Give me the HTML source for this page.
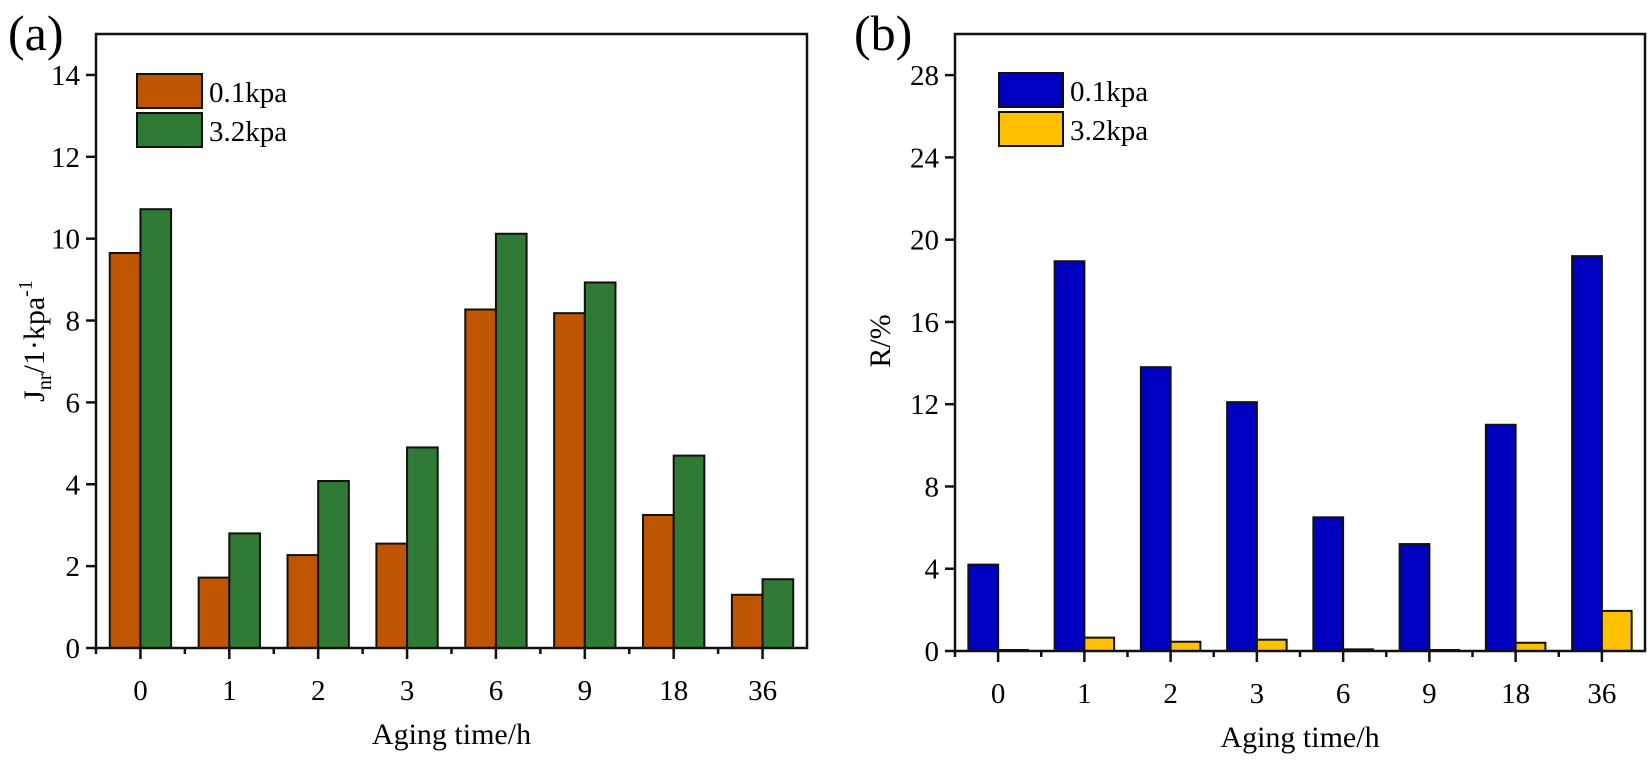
<!DOCTYPE html>
<html><head><meta charset="utf-8"><style>
body{margin:0;background:#fff}
svg{display:block;font-family:"Liberation Serif",serif}
</style></head><body>
<svg id="fig" width="1650" height="764" viewBox="0 0 1650 764"></svg>
<script>
const categories=["0","1","2","3","6","9","18","36"];
const jnr01=[9.65,1.72,2.27,2.55,8.27,8.18,3.25,1.3];
const jnr32=[10.72,2.8,4.08,4.9,10.12,8.93,4.7,1.68];
const r01=[4.2,18.95,13.8,12.1,6.5,5.2,11.0,19.2];
const r32=[0.05,0.65,0.45,0.55,0.08,0.05,0.4,1.95];
const ticksA=[0,2,4,6,8,10,12,14];
const ticksB=[0,4,8,12,16,20,24,28];
const seriesNames=["0.1kpa","3.2kpa"];

const NS="http://www.w3.org/2000/svg";
const svg=document.getElementById('fig');
function mk(tag,attrs,parent,text){const e=document.createElementNS(NS,tag);for(const k in attrs)e.setAttribute(k,attrs[k]);if(text!==undefined)e.textContent=text;(parent||svg).appendChild(e);return e;}

function panel(cfg){
  const g=mk('g',{});
  
  
  const {x0,x1,y0,yTop,max}=cfg;
  const ys=v=>y0-(v/max)*(y0-yTop);
  const band=(x1-x0)/categories.length;
  const xc=i=>x0+band*(i+0.5);
  const bw=band*0.345;
  // bars
  categories.forEach((c,i)=>{
    const v1=cfg.s1[i],v2=cfg.s2[i];
    const b1=mk('rect',{x:xc(i)-bw,y:ys(v1),width:bw,height:y0-ys(v1),fill:cfg.c1,stroke:'#111','stroke-width':2},g);
    
    
    const b2=mk('rect',{x:xc(i),y:ys(v2),width:bw,height:y0-ys(v2),fill:cfg.c2,stroke:'#111','stroke-width':2},g);
    
    
  });
  // frame
  const fr=mk('rect',{x:x0,y:yTop,width:x1-x0,height:y0-yTop,fill:'none',stroke:'#111','stroke-width':2.5},g);
  
  
  // y ticks
  cfg.ticks.forEach(t=>{
    mk('line',{x1:x0-10,x2:x0,y1:ys(t),y2:ys(t),stroke:'#111','stroke-width':2.5},g);
    const tl=mk('text',{x:x0-16,y:ys(t)+10,'text-anchor':'end','font-size':29},g,String(t));
    
    
  });
  // x ticks
  categories.forEach((c,i)=>{
    mk('line',{x1:xc(i),x2:xc(i),y1:y0,y2:y0+11,stroke:'#111','stroke-width':2.5},g);
    mk('line',{x1:x0+band*i,x2:x0+band*i,y1:y0,y2:y0+6,stroke:'#111','stroke-width':2.5},g);
    const tl=mk('text',{x:xc(i),y:y0+52,'text-anchor':'middle','font-size':29},g,c);
    
    
  });
  const xt=mk('text',{x:(x0+x1)/2,y:y0+96,'text-anchor':'middle','font-size':30},g,'Aging time/h');
  
  
  // legend
  [cfg.c1,cfg.c2].forEach((col,k)=>{
    const ly=cfg.legY+k*39;
    const lr=mk('rect',{x:cfg.legX,y:ly,width:cfg.legW,height:34,fill:col,stroke:'#111','stroke-width':2},g);
    
    
    const lt=mk('text',{x:cfg.legX+cfg.legW+7,y:ly+28,'font-size':29},g,seriesNames[k]);
    
    
  });
  const pl=mk('text',{x:cfg.lblX,y:50,'font-size':50},g,cfg.label);
  
  
  return g;
}

panel({name:'panel-a-chart',key:'a',x0:96,x1:807,y0:648,yTop:34,max:15,s1:jnr01,s2:jnr32,c1:'#c05500',c2:'#2f7a35',ticks:ticksA,legX:137,legY:74,legW:65,lblX:8,label:'(a)'});
panel({name:'panel-b-chart',key:'b',x0:955,x1:1645,y0:651,yTop:34,max:30,s1:r01,s2:r32,c1:'#0000c0',c2:'#ffc000',ticks:ticksB,legX:999,legY:73,legW:64,lblX:854,label:'(b)'});

const ya=mk('text',{x:0,y:0,'font-size':30,transform:'translate(44,341) rotate(-90)','text-anchor':'middle'});


ya.innerHTML='J<tspan font-size="20" dy="7">nr</tspan><tspan dy="-7">/1·kpa</tspan><tspan font-size="20" dy="-12">-1</tspan>';
const yb=mk('text',{x:0,y:0,'font-size':30,transform:'translate(890,341) rotate(-90)','text-anchor':'middle'},svg,'R/%');


</script>
</body></html>
